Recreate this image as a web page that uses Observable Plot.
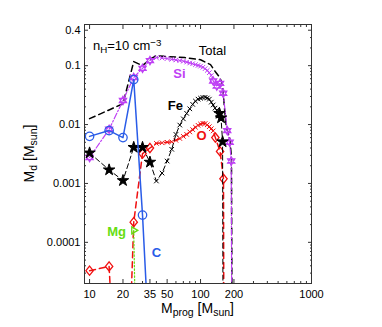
<!DOCTYPE html>
<html><head><meta charset="utf-8">
<script src="https://cdn.jsdelivr.net/npm/d3@7"></script>
<script src="https://cdn.jsdelivr.net/npm/@observablehq/plot@0.6"></script>
<style>html,body{margin:0;padding:0;background:#fff;overflow:hidden}</style>
</head><body><div id="chart"></div>
<script>
// ---- data (progenitor mass [Msun], dust mass [Msun]) ----
const totalM = [10, 15, 20, 25, 30, 35, 40, 47, 72, 100, 123, 136, 149, 158, 161, 164, 167, 171, 183, 190, 195];
const totalV = [0.0126, 0.0177, 0.0226, 0.117, 0.10, 0.129, 0.148, 0.144, 0.137, 0.126, 0.104, 0.079, 0.063, 0.048, 0.03, 0.02, 0.0132, 0.0089, 0.006, 0.0028, 1e-9];

const siMarkM = [10, 15, 20, 25, 30, 35, 130, 140, 150, 160, 174, 183, 189, 194];
const siMarkV = [0.00276, 0.0083, 0.0256, 0.063, 0.09, 0.122, 0.055, 0.045, 0.05, 0.034, 0.0079, 0.005, 0.0024, 1e-9];
const siFineM = [40, 45, 50, 55, 60, 65, 70, 75, 80, 85, 90, 95, 100, 105, 110, 115, 120, 125];
const siFineV = [0.137, 0.135, 0.132, 0.128, 0.125, 0.122, 0.119, 0.115, 0.111, 0.108, 0.104, 0.101, 0.098, 0.094, 0.089, 0.083, 0.076, 0.068];

const feMarkM = [10, 15, 20, 25, 30, 35, 148, 153, 158, 161];
const feMarkV = [0.0033, 0.0017, 0.00112, 0.0041, 0.0041, 0.0023, 0.0155, 0.013, 0.0051, 1e-9];
const feFineM = [40, 45, 50, 55, 60, 65, 70, 75, 80, 85, 90, 95, 100, 105, 110, 115, 120, 125, 130, 135, 140];
const feFineV = [0.0011, 0.0015, 0.0024, 0.0038, 0.0068, 0.0098, 0.0125, 0.0155, 0.0185, 0.022, 0.025, 0.027, 0.028, 0.0288, 0.029, 0.0282, 0.027, 0.024, 0.0215, 0.019, 0.0175];

const oMarkM = [10, 15, 20, 25, 30, 35, 136, 150, 161, 164];
const oMarkV = [3.3e-5, 3.9e-5, 1e-9, 0.00022, 0.0032, 0.004, 0.006, 0.0035, 0.0012, 1e-9];
const oFineM = [40, 45, 50, 55, 60, 65, 70, 75, 80, 85, 90, 95, 100, 105, 110, 115, 120, 125, 130];
const oFineV = [0.0048, 0.0049, 0.005, 0.0051, 0.0054, 0.0058, 0.0063, 0.0068, 0.0075, 0.0082, 0.009, 0.0097, 0.0102, 0.0105, 0.0104, 0.0099, 0.0092, 0.0085, 0.0078];

const cM = [10, 15, 20, 25, 30, 35];
const cV = [0.0063, 0.0079, 0.006, 0.058, 0.00029, 1e-6];

const mgM = [25, 30];
const mgV = [1.6e-4, 1e-12];

const xTicks = [10, 20, 35, 50, 100, 200, 1000];
const xTickLabels = ["10", "20", "35", "50", "100", "200", "1000"];
const xMinor = [30, 40, 60, 70, 80, 90, 300, 400, 500, 600, 700, 800, 900];
const yTicks = [0.0001, 0.001, 0.01, 0.1, 0.4];
const yTickLabels = ["0.0001", "0.001", "0.01", "0.1", "0.4"];
const yMinor = [3e-5, 4e-5, 5e-5, 6e-5, 7e-5, 8e-5, 9e-5, 2e-4, 3e-4, 4e-4, 5e-4, 6e-4, 7e-4, 8e-4, 9e-4,
  2e-3, 3e-3, 4e-3, 5e-3, 6e-3, 7e-3, 8e-3, 9e-3, 0.02, 0.03, 0.04, 0.05, 0.06, 0.07, 0.08, 0.09, 0.2, 0.3];

const labelText = ["Total", "Si", "Fe", "O", "C", "Mg"];
const labelM = [128, 64.6, 59.4, 102, 40.1, 17.5];
const labelV = [0.181, 0.0738, 0.0211, 0.00653, 6.7e-5, 1.53e-4];

// ---- styles ----
const colSi = "#bf40f5", colO = "#f01010", colC = "#2a5ce8", colMg = "#66dd11", colFe = "#000000";
const labelColor = {Total: "#000", Si: colSi, Fe: colFe, O: colO, C: colC, Mg: colMg};

const rows = (M, V) => M.map((m, i) => ({m, v: V[i]}));
const merged = (...sets) => sets.flat().sort((a, b) => a.m - b.m);

const hexagram = {draw(ctx, size) {
  const r = Math.sqrt(size / Math.PI);
  for (const a0 of [-90, 90]) {
    for (let k = 0; k < 3; k++) {
      const a = (a0 + 120 * k) * Math.PI / 180;
      const x = r * Math.cos(a), y = r * Math.sin(a);
      k ? ctx.lineTo(x, y) : ctx.moveTo(x, y);
    }
    ctx.closePath();
  }
}};
const triRight = {draw(ctx, size) {
  const r = Math.sqrt(size / Math.PI);
  for (let k = 0; k < 3; k++) {
    const a = (120 * k) * Math.PI / 180;
    const x = r * Math.cos(a), y = r * Math.sin(a);
    k ? ctx.lineTo(x, y) : ctx.moveTo(x, y);
  }
  ctx.closePath();
}};
const diamond = {draw(ctx, size) {
  const r = Math.sqrt(size / Math.PI);
  ctx.moveTo(0, -r); ctx.lineTo(0.8 * r, 0); ctx.lineTo(0, r); ctx.lineTo(-0.8 * r, 0); ctx.closePath();
}};

const total = rows(totalM, totalV);
const siMark = rows(siMarkM, siMarkV), siFine = rows(siFineM, siFineV);
const feMark = rows(feMarkM, feMarkV), feFine = rows(feFineM, feFineV);
const oMark = rows(oMarkM, oMarkV), oFine = rows(oFineM, oFineV);
const cData = rows(cM, cV), mgData = rows(mgM, mgV);
const labels = labelText.map((t, i) => ({t, m: labelM[i], v: labelV[i]}));
const xTickRows = xTicks.map((x, i) => ({x, t: xTickLabels[i]}));
const yTickRows = yTicks.map((y, i) => ({y, t: yTickLabels[i]}));

const font = "'Liberation Sans', Arial, Helvetica, sans-serif";
const tickStroke = "#333";
const noText = () => "";

const chart = Plot.plot({
  width: 382, height: 327,
  marginLeft: 84, marginRight: 71, marginTop: 24, marginBottom: 44,
  x: {type: "log", domain: [9, 1000]},
  y: {type: "log", domain: [2e-5, 0.5]},
  style: {fontFamily: font, fontSize: "11px", background: "white", color: "#000"},
  marks: [
    Plot.axisX(xTicks, {anchor: "bottom", tickSize: -4, tickFormat: noText, label: null, stroke: tickStroke}),
    Plot.axisX(xTicks, {anchor: "top", tickSize: -4, tickFormat: noText, label: null, stroke: tickStroke}),
    Plot.axisX(xMinor, {anchor: "bottom", tickSize: -2, tickFormat: noText, label: null, stroke: tickStroke}),
    Plot.axisX(xMinor, {anchor: "top", tickSize: -2, tickFormat: noText, label: null, stroke: tickStroke}),
    Plot.axisY(yTicks, {anchor: "left", tickSize: -4, tickFormat: noText, label: null, stroke: tickStroke}),
    Plot.axisY(yTicks, {anchor: "right", tickSize: -4, tickFormat: noText, label: null, stroke: tickStroke}),
    Plot.axisY(yMinor, {anchor: "left", tickSize: -2, tickFormat: noText, label: null, stroke: tickStroke}),
    Plot.axisY(yMinor, {anchor: "right", tickSize: -2, tickFormat: noText, label: null, stroke: tickStroke}),

    // tick labels
    Plot.text(xTickRows, {x: "x", text: "t", frameAnchor: "bottom", lineAnchor: "top", dy: 7, fontSize: 11, fill: "#000"}),
    Plot.text(yTickRows, {y: "y", text: "t", frameAnchor: "left", textAnchor: "end", dx: -4, fontSize: 11, fill: "#000"}),

    Plot.line(total, {x: "m", y: "v", stroke: "#000", strokeWidth: 1.5, strokeDasharray: "6,4", clip: true}),

    Plot.line(merged(siMark, siFine), {x: "m", y: "v", stroke: colSi, strokeWidth: 1.2, strokeDasharray: "6,2,1.5,2", clip: true}),
    Plot.dot(siFine, {x: "m", y: "v", symbol: "times", r: 2.2, stroke: colSi, strokeWidth: 1, clip: true}),
    Plot.dot(siMark, {x: "m", y: "v", symbol: hexagram, r: 4.2, stroke: colSi, fill: "none", strokeWidth: 1.2, clip: true}),

    Plot.line(merged(oMark, oFine), {x: "m", y: "v", stroke: colO, strokeWidth: 1.5, strokeDasharray: "6,4", clip: true}),
    Plot.dot(oFine, {x: "m", y: "v", symbol: "times", r: 2.2, stroke: colO, strokeWidth: 1, clip: true}),
    Plot.dot(oMark, {x: "m", y: "v", symbol: diamond, r: 4.6, stroke: colO, fill: "none", strokeWidth: 1.3, clip: true}),

    Plot.line(merged(feMark, feFine), {x: "m", y: "v", stroke: colFe, strokeWidth: 1, strokeDasharray: "5,3", clip: true}),
    Plot.dot(feFine, {x: "m", y: "v", symbol: "times", r: 2.2, stroke: colFe, strokeWidth: 1, clip: true}),
    Plot.dot(feMark, {x: "m", y: "v", symbol: "star", r: 3.6, stroke: colFe, fill: colFe, strokeWidth: 1, clip: true}),

    Plot.line(mgData, {x: "m", y: "v", stroke: colMg, strokeWidth: 1.2, strokeDasharray: "1.5,2", clip: true}),
    Plot.dot(mgData, {x: "m", y: "v", symbol: triRight, r: 4, stroke: colMg, fill: "none", strokeWidth: 1.3, clip: true}),

    Plot.line(cData, {x: "m", y: "v", stroke: colC, strokeWidth: 1.5, clip: true}),
    Plot.dot(cData, {x: "m", y: "v", symbol: "circle", r: 4.2, stroke: colC, fill: "none", strokeWidth: 1.3, clip: true}),

    Plot.text(labels.filter(d => d.t === "Total"), {x: "m", y: "v", text: "t", fill: "#000", fontSize: 13}),
    Plot.text(labels.filter(d => d.t !== "Total"), {x: "m", y: "v", text: "t", fill: d => labelColor[d.t], fontWeight: "bold", fontSize: 13}),

    Plot.frame({stroke: "#333", strokeWidth: 1})
  ]
});
document.getElementById("chart").appendChild(chart);

// Post: labels with sub/superscripts
const sx = chart.scale("x"), sy = chart.scale("y");
const svg = d3.select(chart);
function richText(parts, x, y, size, rotate) {
  const t = svg.append("text").attr("font-family", font).attr("font-size", size).attr("fill", "#000");
  if (rotate) t.attr("transform", `translate(${x},${y}) rotate(-90)`).attr("text-anchor", "middle");
  else t.attr("x", x).attr("y", y).attr("text-anchor", parts.anchor || "start");
  for (const p of parts.list) {
    const s = t.append("tspan").text(p[0]);
    if (p[1] === "sub") s.attr("baseline-shift", "-25%").attr("font-size", size * 0.75);
    if (p[1] === "sup") s.attr("baseline-shift", "40%").attr("font-size", size * 0.75);
  }
  return t;
}
// n_H annotation anchored in data coordinates
const nhM = 10.85, nhV = 0.181;
richText({list: [["n"], ["H", "sub"], ["=10 cm"], ["\u22123", "sup"]]}, sx.apply(nhM), sy.apply(nhV), 13, false);
// axis titles
const xMid = (sx.range[0] + sx.range[1]) / 2, yMid = (sy.range[0] + sy.range[1]) / 2;
richText({anchor: "middle", list: [["M"], ["prog", "sub"], [" [M"], ["sun", "sub"], ["]"]]}, xMid, 313, 14, false);
richText({list: [["M"], ["d", "sub"], [" [M"], ["sun", "sub"], ["]"]]}, 34, yMid, 14, true);
</script>
</body></html>
